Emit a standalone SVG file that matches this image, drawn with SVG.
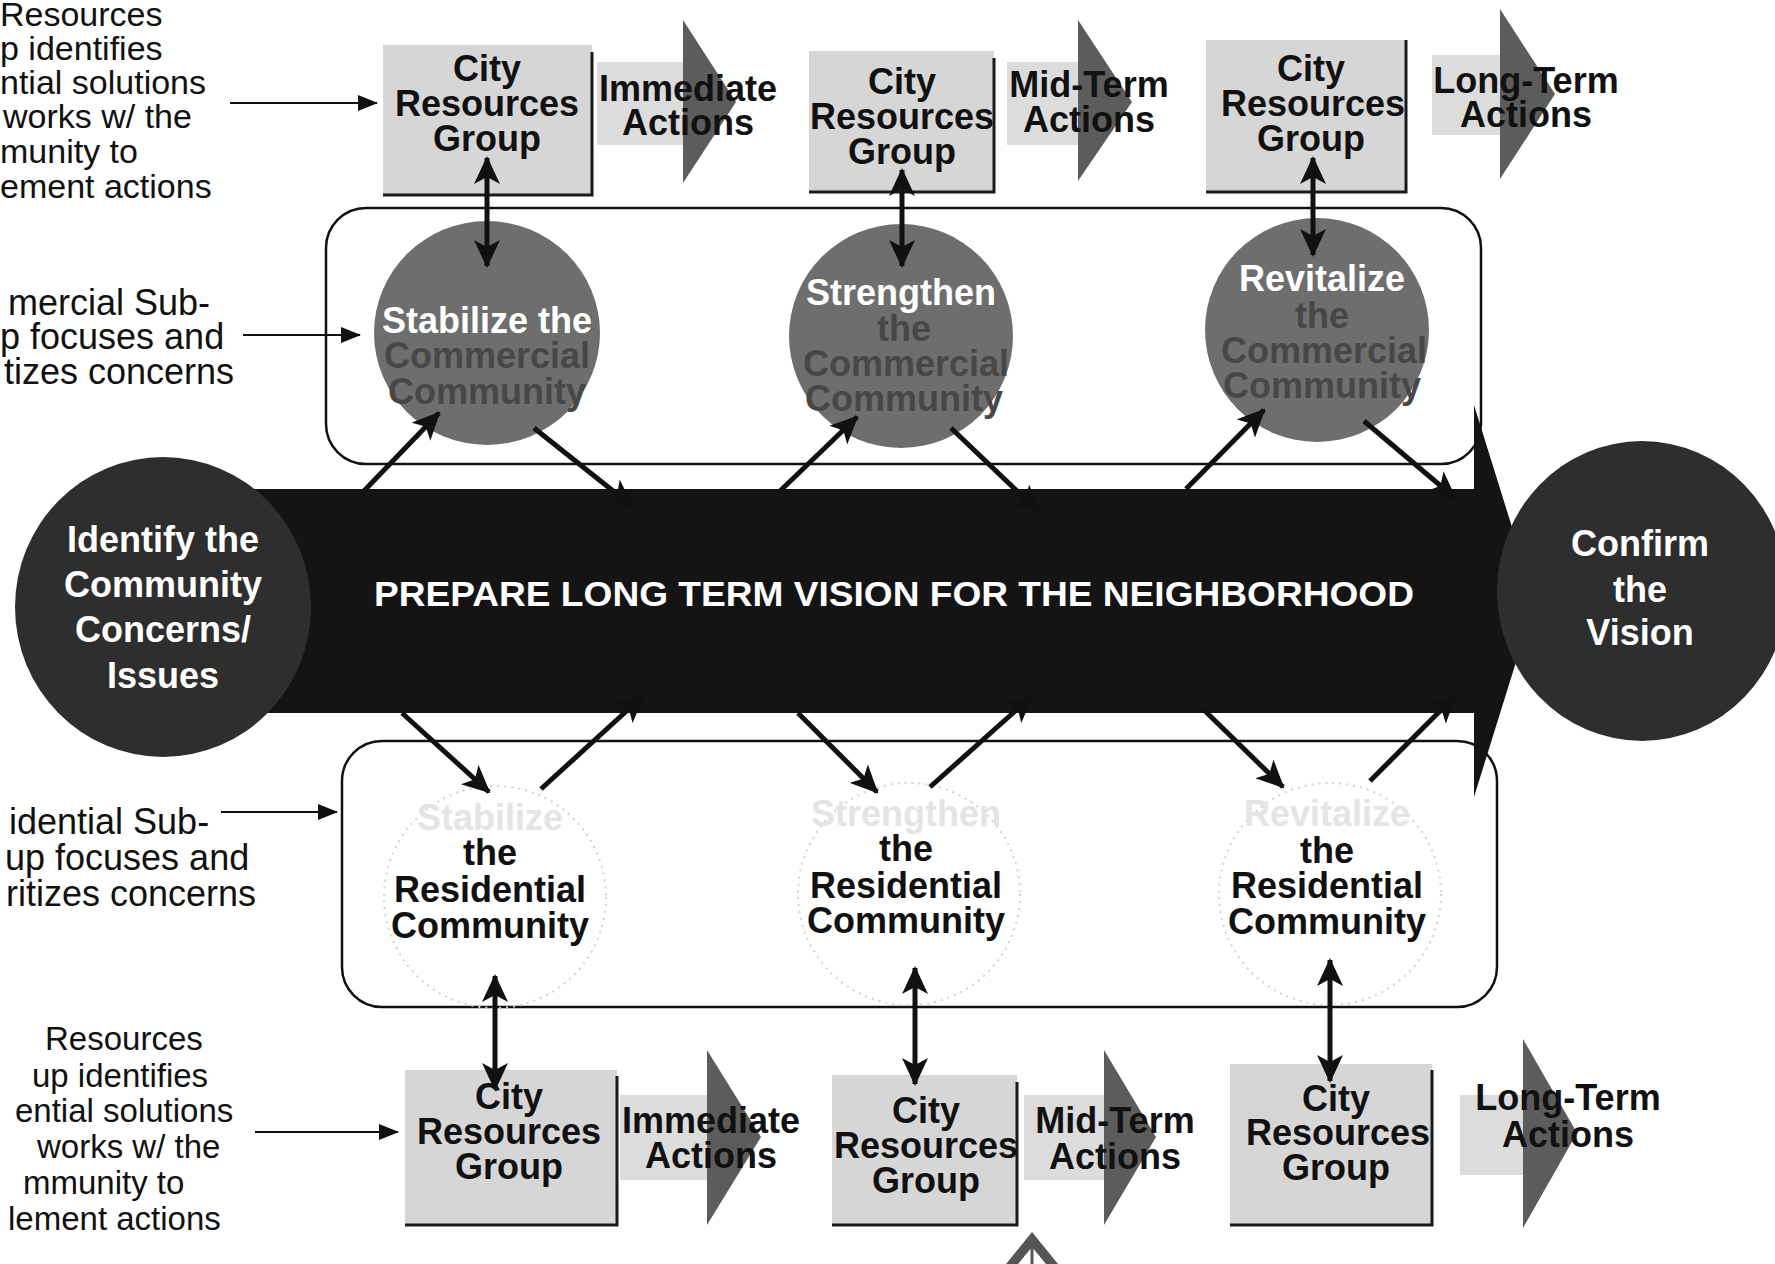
<svg xmlns="http://www.w3.org/2000/svg" width="1775" height="1264" viewBox="0 0 1775 1264">
<style>
.ann{font-family:"Liberation Sans",Arial,sans-serif;font-size:34px;fill:#111}
.ann2{font-family:"Liberation Sans",Arial,sans-serif;font-size:36px;fill:#111}
.annb{font-family:"Liberation Sans",Arial,sans-serif;font-size:33px;fill:#111}
.t{font-family:"Liberation Sans",Arial,sans-serif;font-size:36px;font-weight:bold;text-anchor:middle;fill:#111}
.w{fill:#fff}
.dk{fill:#474747}
.faint{fill:#e4e4e4}
.crg{fill:#d6d6d6}
.edge{fill:none;stroke:#1a1a1a;stroke-width:3}
.shaft{fill:#dcdcdc}
.head{fill:#5c5c5c}
.frame{fill:none;stroke:#111;stroke-width:2.5}
.ccirc{fill:#6e6e6e}
.rcirc{fill:none;stroke:#d2d2d2;stroke-width:2;stroke-dasharray:2 5}
.big{fill:#2e2e2e}
.thin{fill:none;stroke:#111;stroke-width:2}
.conn{fill:none;stroke:#111;stroke-width:5}
</style>
<defs>
<marker id="ah" viewBox="0 0 28 26" markerWidth="28" markerHeight="26" refX="26" refY="13" orient="auto-start-reverse" markerUnits="userSpaceOnUse">
<path d="M0,0 L28,13 L0,26 L7,13 z" fill="#111"/>
</marker>
<marker id="sh" viewBox="0 0 20 16" markerWidth="20" markerHeight="16" refX="19" refY="8" orient="auto" markerUnits="userSpaceOnUse">
<path d="M0,0 L20,8 L0,16 z" fill="#111"/>
</marker>
</defs>
<rect width="1775" height="1264" fill="#fff"/>

<!-- side annotations -->
<g id="note-top">
<text class="ann" x="0" y="26">Resources</text>
<text class="ann" x="0" y="60">p identifies</text>
<text class="ann" x="0" y="94">ntial solutions</text>
<text class="ann" x="3" y="128">works w/ the</text>
<text class="ann" x="0" y="163">munity to</text>
<text class="ann" x="0" y="198">ement actions</text>
</g>
<g id="note-commercial">
<text class="ann2" x="8" y="315">mercial Sub-</text>
<text class="ann2" x="0" y="349">p focuses and</text>
<text class="ann2" x="4" y="384">tizes concerns</text>
</g>
<g id="note-residential">
<text class="ann2" x="9" y="834">idential Sub-</text>
<text class="ann2" x="5" y="870">up focuses and</text>
<text class="ann2" x="6" y="906">ritizes concerns</text>
</g>
<g id="note-bottom">
<text class="annb" x="45" y="1050">Resources</text>
<text class="annb" x="32" y="1087">up identifies</text>
<text class="annb" x="15" y="1122">ential solutions</text>
<text class="annb" x="37" y="1158">works w/ the</text>
<text class="annb" x="23" y="1194">mmunity to</text>
<text class="annb" x="8" y="1230">lement actions</text>
</g>

<!-- frames -->
<g id="commercial-subgroup"><rect class="frame" x="326" y="208" width="1155" height="256" rx="40"/></g>
<g id="residential-subgroup"><rect class="frame" x="342" y="741" width="1155" height="266" rx="40"/></g>

<!-- central band -->
<g id="vision-band">
<path fill="#141414" d="M250,489 H1474 V405 L1535,601 L1474,797 V713 H250 z"/>
<text x="894" y="606" textLength="1040" lengthAdjust="spacingAndGlyphs" font-family="Liberation Sans, Arial, sans-serif" font-size="35" font-weight="bold" fill="#fff" text-anchor="middle">PREPARE LONG TERM VISION FOR THE NEIGHBORHOOD</text>
</g>

<g id="identify">
<ellipse class="big" cx="163" cy="607" rx="148" ry="150"/>
<text class="t w" x="163" y="552">Identify the</text>
<text class="t w" x="163" y="597">Community</text>
<text class="t w" x="163" y="642">Concerns/</text>
<text class="t w" x="163" y="688">Issues</text>
</g>
<g id="confirm">
<ellipse class="big" cx="1642" cy="591" rx="145" ry="150"/>
<text class="t w" x="1640" y="556">Confirm</text>
<text class="t w" x="1640" y="602">the</text>
<text class="t w" x="1640" y="645">Vision</text>
</g>

<!-- commercial circles -->
<g id="stabilize-commercial">
<ellipse class="ccirc" cx="487" cy="333" rx="113" ry="112"/>
<text class="t w" x="487" y="333">Stabilize the</text>
<text class="t dk" x="487" y="368">Commercial</text>
<text class="t dk" x="487" y="404">Community</text>
</g>
<g id="strengthen-commercial">
<ellipse class="ccirc" cx="901" cy="336" rx="112" ry="112"/>
<text class="t w" x="901" y="305">Strengthen</text>
<text class="t dk" x="904" y="341">the</text>
<text class="t dk" x="906" y="376">Commercial</text>
<text class="t dk" x="904" y="411">Community</text>
</g>
<g id="revitalize-commercial">
<ellipse class="ccirc" cx="1317" cy="330" rx="112" ry="112"/>
<text class="t w" x="1322" y="291">Revitalize</text>
<text class="t dk" x="1322" y="328">the</text>
<text class="t dk" x="1324" y="363">Commercial</text>
<text class="t dk" x="1322" y="398">Community</text>
</g>

<!-- residential circles -->
<g id="stabilize-residential">
<circle class="rcirc" cx="495" cy="897" r="111"/>
<text class="t faint" x="490" y="830">Stabilize</text>
<text class="t" x="490" y="865">the</text>
<text class="t" x="490" y="902">Residential</text>
<text class="t" x="490" y="938">Community</text>
</g>
<g id="strengthen-residential">
<circle class="rcirc" cx="909" cy="894" r="111"/>
<text class="t faint" x="906" y="826">Strengthen</text>
<text class="t" x="906" y="861">the</text>
<text class="t" x="906" y="898">Residential</text>
<text class="t" x="906" y="933">Community</text>
</g>
<g id="revitalize-residential">
<circle class="rcirc" cx="1330" cy="894" r="111"/>
<text class="t faint" x="1327" y="826">Revitalize</text>
<text class="t" x="1327" y="863">the</text>
<text class="t" x="1327" y="898">Residential</text>
<text class="t" x="1327" y="934">Community</text>
</g>

<!-- top row -->
<g id="crg-top-1">
<rect class="crg" x="383" y="45" width="209" height="150"/>
<path class="edge" d="M592,52 V195 H383"/>
<text class="t" x="487" y="81">City</text>
<text class="t" x="487" y="116">Resources</text>
<text class="t" x="487" y="151">Group</text>
</g>
<g id="actions-top-immediate">
<rect class="shaft" x="597" y="62" width="86" height="83"/>
<path class="head" d="M683,20 L736,102 L683,183 z"/>
<text class="t" x="688" y="101">Immediate</text>
<text class="t" x="688" y="135">Actions</text>
</g>
<g id="crg-top-2">
<rect class="crg" x="809" y="51" width="185" height="141"/>
<path class="edge" d="M994,58 V192 H809"/>
<text class="t" x="902" y="94">City</text>
<text class="t" x="902" y="129">Resources</text>
<text class="t" x="902" y="164">Group</text>
</g>
<g id="actions-top-mid">
<rect class="shaft" x="1007" y="62" width="71" height="83"/>
<path class="head" d="M1078,20 L1132,102 L1078,181 z"/>
<text class="t" x="1089" y="97">Mid-Term</text>
<text class="t" x="1089" y="132">Actions</text>
</g>
<g id="crg-top-3">
<rect class="crg" x="1206" y="40" width="200" height="152"/>
<path class="edge" d="M1406,40 V192 H1206"/>
<text class="t" x="1311" y="81">City</text>
<text class="t" x="1313" y="116">Resources</text>
<text class="t" x="1311" y="151">Group</text>
</g>
<g id="actions-top-long">
<rect class="shaft" x="1432" y="55" width="68" height="80"/>
<path class="head" d="M1500,9 L1555,94 L1500,179 z"/>
<text class="t" x="1526" y="93">Long-Term</text>
<text class="t" x="1526" y="127">Actions</text>
</g>

<!-- bottom row -->
<g id="crg-bottom-1">
<rect class="crg" x="405" y="1070" width="212" height="155"/>
<path class="edge" d="M617,1076 V1225 H405"/>
<text class="t" x="509" y="1109">City</text>
<text class="t" x="509" y="1144">Resources</text>
<text class="t" x="509" y="1179">Group</text>
</g>
<g id="actions-bottom-immediate">
<rect class="shaft" x="620" y="1095" width="87" height="85"/>
<path class="head" d="M707,1050 L761,1137 L707,1225 z"/>
<text class="t" x="711" y="1133">Immediate</text>
<text class="t" x="711" y="1168">Actions</text>
</g>
<g id="crg-bottom-2">
<rect class="crg" x="832" y="1075" width="185" height="150"/>
<path class="edge" d="M1017,1082 V1225 H832"/>
<text class="t" x="926" y="1123">City</text>
<text class="t" x="926" y="1158">Resources</text>
<text class="t" x="926" y="1193">Group</text>
</g>
<g id="actions-bottom-mid">
<rect class="shaft" x="1024" y="1095" width="80" height="85"/>
<path class="head" d="M1104,1050 L1156,1137 L1104,1225 z"/>
<text class="t" x="1115" y="1133">Mid-Term</text>
<text class="t" x="1115" y="1169">Actions</text>
</g>
<g id="crg-bottom-3">
<rect class="crg" x="1230" y="1064" width="202" height="161"/>
<path class="edge" d="M1432,1070 V1225 H1230"/>
<text class="t" x="1336" y="1111">City</text>
<text class="t" x="1338" y="1145">Resources</text>
<text class="t" x="1336" y="1180">Group</text>
</g>
<g id="actions-bottom-long">
<rect class="shaft" x="1460" y="1095" width="63" height="80"/>
<path class="head" d="M1523,1039 L1577,1133 L1523,1228 z"/>
<text class="t" x="1568" y="1110">Long-Term</text>
<text class="t" x="1568" y="1147">Actions</text>
</g>

<!-- connectors -->
<g id="connectors">
<line class="thin" x1="230" y1="103" x2="377" y2="103" marker-end="url(#sh)"/>
<line class="thin" x1="243" y1="335" x2="360" y2="335" marker-end="url(#sh)"/>
<line class="thin" x1="221" y1="812" x2="337" y2="812" marker-end="url(#sh)"/>
<line class="thin" x1="255" y1="1132" x2="398" y2="1132" marker-end="url(#sh)"/>

<line class="conn" x1="487" y1="158" x2="487" y2="266" marker-start="url(#ah)" marker-end="url(#ah)"/>
<line class="conn" x1="902" y1="170" x2="902" y2="266" marker-start="url(#ah)" marker-end="url(#ah)"/>
<line class="conn" x1="1313" y1="158" x2="1313" y2="255" marker-start="url(#ah)" marker-end="url(#ah)"/>
<line class="conn" x1="495" y1="976" x2="495" y2="1089" marker-start="url(#ah)" marker-end="url(#ah)"/>
<line class="conn" x1="915" y1="968" x2="915" y2="1084" marker-start="url(#ah)" marker-end="url(#ah)"/>
<line class="conn" x1="1330" y1="960" x2="1330" y2="1081" marker-start="url(#ah)" marker-end="url(#ah)"/>

<line class="conn" x1="360" y1="495" x2="439" y2="413" marker-end="url(#ah)"/>
<line class="conn" x1="534" y1="428" x2="632" y2="506" marker-end="url(#ah)"/>
<line class="conn" x1="779" y1="492" x2="857" y2="417" marker-end="url(#ah)"/>
<line class="conn" x1="951" y1="428" x2="1039" y2="512" marker-end="url(#ah)"/>
<line class="conn" x1="1186" y1="489" x2="1264" y2="410" marker-end="url(#ah)"/>
<line class="conn" x1="1364" y1="421" x2="1455" y2="498" marker-end="url(#ah)"/>

<line class="conn" x1="402" y1="713" x2="489" y2="792" marker-end="url(#ah)"/>
<line class="conn" x1="541" y1="789" x2="643" y2="696" marker-end="url(#ah)"/>
<line class="conn" x1="798" y1="713" x2="877" y2="792" marker-end="url(#ah)"/>
<line class="conn" x1="930" y1="787" x2="1032" y2="696" marker-end="url(#ah)"/>
<line class="conn" x1="1202" y1="708" x2="1283" y2="787" marker-end="url(#ah)"/>
<line class="conn" x1="1370" y1="781" x2="1455" y2="696" marker-end="url(#ah)"/>

<path fill="#555" d="M1032,1232 L1058,1264 L1046,1264 L1032,1247 L1018,1264 L1006,1264 z"/>
<line x1="1032" y1="1247" x2="1032" y2="1264" stroke="#555" stroke-width="3"/>
</g>
</svg>
